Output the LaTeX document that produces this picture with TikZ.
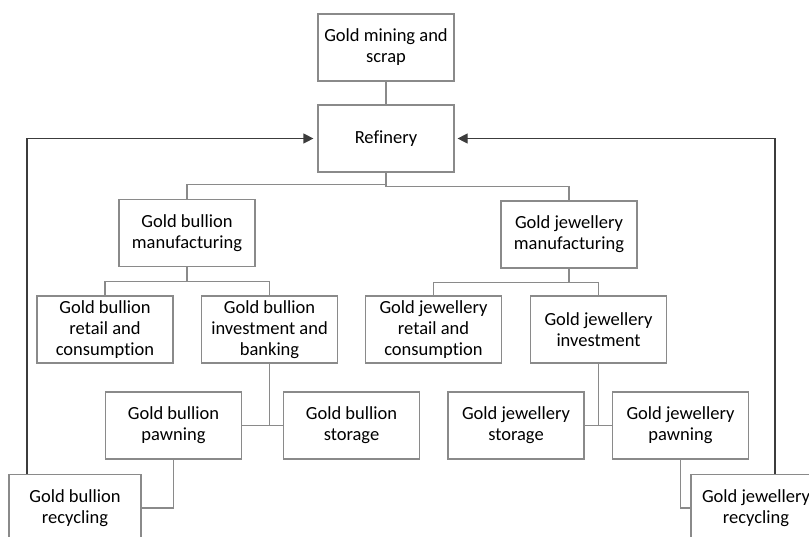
\documentclass[tikz,border=0pt]{standalone}
\usepackage{fontspec}
\setmainfont{Carlito}[Ligatures=NoCommon]
\usetikzlibrary{arrows.meta}
\definecolor{boxline}{RGB}{138,138,138}
\definecolor{backline}{RGB}{60,60,60}
\tikzset{
  box/.style={draw=boxline, line width=1.2pt, minimum width=136pt, minimum height=67pt,
    align=center, inner sep=2pt, text=black, font=\fontsize{18.5}{21}\selectfont},
  link/.style={draw=boxline, line width=1.2pt},
  back/.style={draw=backline, line width=1.2pt, -{Triangle[length=10pt,width=10pt]}},
}
\begin{document}
\begin{tikzpicture}[x=1pt,y=1pt]
    \useasboundingbox (0,0) rectangle (809,-536);
    \clip (0,0) rectangle (809,-536);

    \node[box] (mine) at (386,-47.5) {Gold mining and\\scrap};
    \node[box, node distance=91pt, below of=mine] (ref) {Refinery};

    \node[box, node distance=94.5pt, below of=ref, xshift=-199pt] (gbman) {Gold bullion\\manufacturing};
    \node[box, node distance=96pt, below of=ref, xshift=183pt] (gjman) {Gold jewellery\\manufacturing};

    \node[box, node distance=96.5pt, below of=gbman, xshift=-82pt] (gbret) {Gold bullion\\retail and\\consumption};
    \node[box, node distance=164.5pt, right of=gbret] (gbinv) {Gold bullion\\investment and\\banking};
    \node[box, node distance=95pt, below of=gjman, xshift=-135.5pt] (gjret) {Gold jewellery\\retail and\\consumption};
    \node[box, node distance=165pt, right of=gjret] (gjinv) {Gold jewellery\\investment};

    \node[box, node distance=96pt, below of=gbinv, xshift=-96pt] (gbpawn) {Gold bullion\\pawning};
    \node[box, node distance=178pt, right of=gbpawn] (gbsto) {Gold bullion\\storage};
    \node[box, node distance=96pt, below of=gjinv, xshift=-82.5pt] (gjsto) {Gold jewellery\\storage};
    \node[box, node distance=164.5pt, right of=gjsto] (gjpawn) {Gold jewellery\\pawning};

    \node[box, minimum width=132pt, node distance=82.5pt, below of=gbpawn, xshift=-98.5pt] (gbrec) {Gold bullion\\recycling};
    \node[box, minimum width=130pt, node distance=82.5pt, below of=gjpawn, xshift=75.5pt] (gjrec) {Gold jewellery\\recycling};

    % tree links
    \draw[link] (mine) -- (ref);
    \draw[link] (ref.south) -- ++(0,-12) -| (gbman.north);
    \draw[link] (ref.south) -- ++(0,-14) -| (gjman.north);
    \draw[link] (gbman.south) -- ++(0,-14) -| (gbret.north);
    \draw[link] (gbman.south) -- ++(0,-14) -| (gbinv.north);
    \draw[link] (gjman.south) -- ++(0,-14) -| (gjret.north);
    \draw[link] (gjman.south) -- ++(0,-14) -| (gjinv.north);
    \draw[link] (gbinv.south) |- (gbpawn.east);
    \draw[link] (gbpawn.east) -- (gbsto.west);
    \draw[link] (gjinv.south) |- (gjsto.east);
    \draw[link] (gjsto.east) -- (gjpawn.west);
    \draw[link] (gbpawn.south) |- (gbrec.east);
    \draw[link] (gjpawn.south) |- (gjrec.west);

    % recycling back to refinery
    \draw[back, shorten >=4pt] ([xshift=-48pt]gbrec.north) |- (ref.west);
    \draw[back, shorten >=3pt] ([xshift=19pt]gjrec.north) |- (ref.east);
  \end{tikzpicture}
\end{document}
